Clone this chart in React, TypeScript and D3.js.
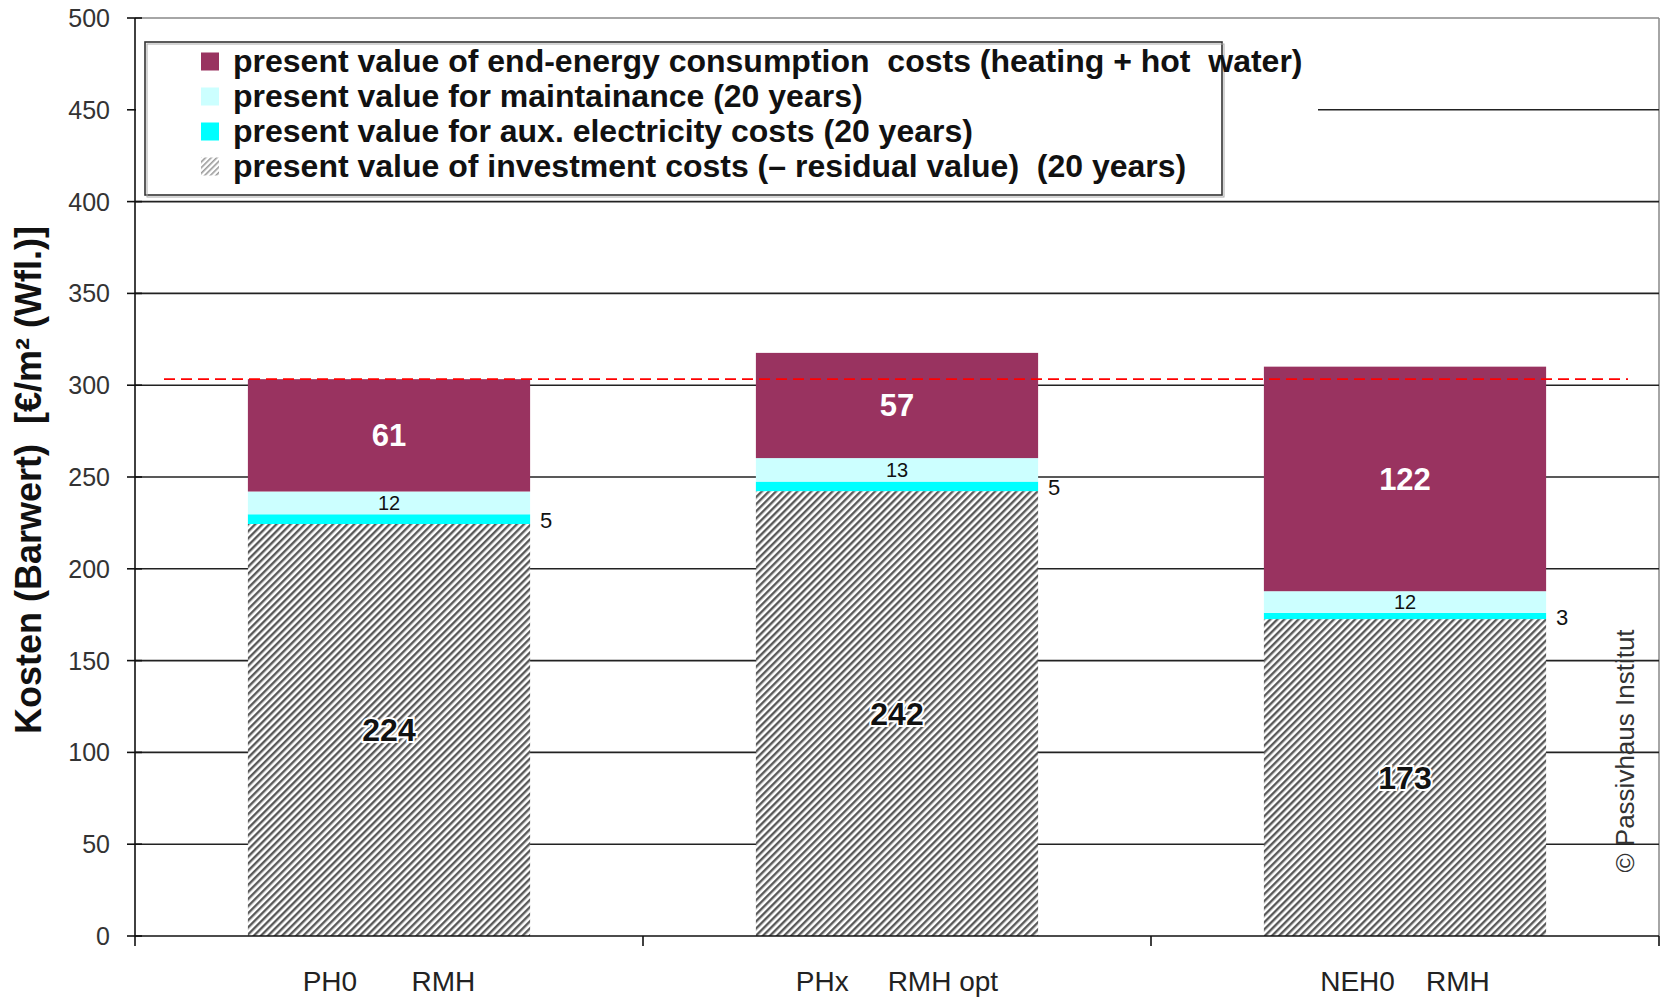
import React from 'react';
import * as d3 from 'd3';

// categories (spaces kept as in the original axis labels)
const categories = ['PH0       RMH', 'PHx     RMH opt', 'NEH0    RMH'];

// stacked series, bottom to top, €/m²
const investment = [224.4, 242.3, 172.6];
const auxElectricity = [5.3, 5.2, 3.4];
const maintenance = [12.4, 12.8, 11.8];
const endEnergy = [61.2, 57.3, 122.3];

const yTicks = [0, 50, 100, 150, 200, 250, 300, 350, 400, 450, 500];
const referenceLevel = 303.3;

const legendLabels = [
  'present value of end-energy consumption  costs (heating + hot  water)',
  'present value for maintainance (20 years)',
  'present value for aux. electricity costs (20 years)',
  'present value of investment costs (– residual value)  (20 years)',
];

const W = 1662;
const H = 1003;
const margin = { top: 18, right: 3, bottom: 67, left: 135 };
const font = '"Liberation Sans", Arial, sans-serif';

const keys = ['investment', 'aux', 'maintenance', 'energy'];
const colors: Record<string, string> = {
  investment: 'url(#hatch)',
  aux: '#00ffff',
  maintenance: '#ccffff',
  energy: '#993360',
};

export default function App() {
  const x = d3
    .scaleBand()
    .domain(categories)
    .range([margin.left, W - margin.right])
    .paddingInner(0.8 / 1.8)
    .paddingOuter(0.4 / 1.8);

  const y = d3
    .scaleLinear()
    .domain([0, 500])
    .range([H - margin.bottom, margin.top]);

  const rows = categories.map((c, i) => ({
    cat: c,
    investment: investment[i],
    aux: auxElectricity[i],
    maintenance: maintenance[i],
    energy: endEnergy[i],
  }));
  const stacked = d3.stack<any>().keys(keys)(rows);

  const x0 = margin.left;
  const x1 = W - margin.right;
  const bandEdges = [0, 1, 2, 3].map((i) => x0 + i * (x1 - x0) / 3);

  const legendColors = ['#993360', '#ccffff', '#00ffff', 'url(#hatchSmall)'];

  return (
    <svg
      width={W}
      height={H}
      style={{ position: 'absolute', left: 0, top: 0, background: '#fff' }}
      fontFamily={font}
    >
      <defs>
        <pattern id="hatch" width="5" height="5" patternUnits="userSpaceOnUse" patternTransform="rotate(45)">
          <rect width="5" height="5" fill="#fff" />
          <rect width="2.4" height="5" fill="#5a5a5a" />
        </pattern>
        <pattern id="hatchSmall" width="4" height="4" patternUnits="userSpaceOnUse" patternTransform="rotate(45)">
          <rect width="4" height="4" fill="#fff" />
          <rect width="1.6" height="4" fill="#9a9a9a" />
        </pattern>
      </defs>

      {/* plot frame */}
      <line x1={x0} x2={x1} y1={y(500)} y2={y(500)} stroke="#888" strokeWidth={1.5} />
      <line x1={x1} x2={x1} y1={y(500)} y2={y(0)} stroke="#888" strokeWidth={1.5} />

      {/* gridlines */}
      {yTicks.filter((t) => t > 0 && t < 500).map((t) => (
        <line key={t} x1={x0} x2={x1} y1={y(t)} y2={y(t)} stroke="#222" strokeWidth={1.6} />
      ))}

      {/* bars */}
      {stacked.map((s) => (
        <g key={s.key}>
          {s.map((d, i) => (
            <rect
              key={i}
              x={x(categories[i])}
              width={x.bandwidth()}
              y={y(d[1])}
              height={y(d[0]) - y(d[1])}
              fill={colors[s.key]}
            />
          ))}
        </g>
      ))}

      {/* segment labels */}
      {stacked.map((s) =>
        s.map((d, i) => {
          const cx = (x(categories[i]) as number) + x.bandwidth() / 2;
          const cy = y((d[0] + d[1]) / 2);
          const v = Math.round(d[1] - d[0]);
          if (s.key === 'investment')
            return (
              <text key={s.key + i} x={cx} y={cy + 11} textAnchor="middle" fontSize={32} fontWeight="bold"
                fill="#111" stroke="#fff" strokeWidth={4} paintOrder="stroke">{v}</text>
            );
          if (s.key === 'aux')
            return (
              <text key={s.key + i} x={cx + x.bandwidth() / 2 + 10} y={cy + 9} fontSize={22} fill="#111">{v}</text>
            );
          if (s.key === 'maintenance')
            return (
              <text key={s.key + i} x={cx} y={cy + 7} textAnchor="middle" fontSize={20} fill="#111">{v}</text>
            );
          return (
            <text key={s.key + i} x={cx} y={cy + 11} textAnchor="middle" fontSize={31} fontWeight="bold" fill="#fff">{v}</text>
          );
        })
      )}

      {/* reference line */}
      <line x1={164} x2={1628} y1={y(referenceLevel)} y2={y(referenceLevel)} stroke="#ff0000"
        strokeWidth={1.6} strokeDasharray="11 6" />

      {/* y axis */}
      <line x1={x0} x2={x0} y1={y(500)} y2={y(0)} stroke="#111" strokeWidth={1.6} />
      {yTicks.map((t) => (
        <g key={t}>
          <line x1={x0 - 8} x2={x0 + 7} y1={y(t)} y2={y(t)} stroke="#111" strokeWidth={1.6} />
          <text x={110} y={y(t) + 9} textAnchor="end" fontSize={25} fill="#333">{t}</text>
        </g>
      ))}

      {/* x axis */}
      <line x1={x0} x2={x1} y1={y(0)} y2={y(0)} stroke="#111" strokeWidth={1.6} />
      {bandEdges.map((bx, i) => (
        <line key={i} x1={bx} x2={bx} y1={y(0)} y2={y(0) + 10} stroke="#111" strokeWidth={1.6} />
      ))}
      {categories.map((c) => (
        <text key={c} x={(x(c) as number) + x.bandwidth() / 2} y={991} textAnchor="middle" fontSize={28}
          fill="#222" style={{ whiteSpace: 'pre' }}>{c}</text>
      ))}

      {/* y axis title */}
      <text transform={`translate(41, 480) rotate(-90)`} textAnchor="middle" fontSize={36} fontWeight="bold"
        fill="#111" style={{ whiteSpace: 'pre' }}>{'Kosten (Barwert)  [€/m² (Wfl.)]'}</text>

      {/* copyright */}
      <text transform={`translate(1634, 751) rotate(-90)`} textAnchor="middle" fontSize={26} fill="#333">
        © Passivhaus Institut
      </text>

      {/* legend */}
      <rect x={136} y={42} width={1182} height={153} fill="#fff" />
      <rect x={145} y={42} width={1077} height={153} fill="none" stroke="#333" strokeWidth={1.6} />
      <rect x={147} y={44} width={1077} height={153} fill="none" stroke="#aaa" strokeWidth={1} />
      {legendLabels.map((l, i) => {
        const cy = 61.5 + i * 35;
        return (
          <g key={l}>
            <rect x={201} y={cy - 9} width={18} height={18} fill={legendColors[i]} />
            <text x={233} y={cy + 10} fontSize={32} fontWeight="bold" fill="#111" style={{ whiteSpace: 'pre' }}>{l}</text>
          </g>
        );
      })}
    </svg>
  );
}
